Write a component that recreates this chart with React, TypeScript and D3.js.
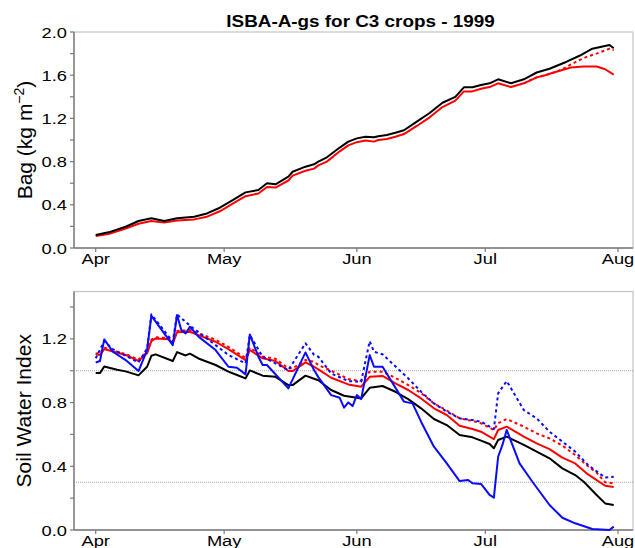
import React from "react";
import * as d3 from "d3";

// ---- Data (day offset from 1999-04-01, value) ----
const monthTicks = ["Apr", "May", "Jun", "Jul", "Aug"];
const bagTicks = [0.0, 0.4, 0.8, 1.2, 1.6, 2.0];
const swiTicks = [0.0, 0.4, 0.8, 1.2];
const swiRefLines = [1.0, 0.3];

const bagBlack: [number, number][] = [
  [0, 0.12], [3, 0.145], [7, 0.197], [10, 0.25], [13, 0.275], [16, 0.25], [19, 0.275], [23, 0.29],
  [26, 0.32], [29, 0.373], [32, 0.444], [35, 0.515], [38, 0.537], [40, 0.6], [42, 0.59], [45, 0.66],
  [46, 0.706], [49, 0.753], [51, 0.775], [52, 0.8], [54, 0.84], [57, 0.93], [59, 0.985], [61, 1.015],
  [63, 1.03], [65, 1.025], [66, 1.035], [68, 1.046], [70, 1.067], [72, 1.09], [75, 1.17], [78, 1.25],
  [81, 1.345], [84, 1.4], [86, 1.488], [88, 1.488], [90, 1.51], [92, 1.525], [94, 1.562], [97, 1.525],
  [100, 1.562], [103, 1.625], [106, 1.66], [110, 1.725], [113, 1.78], [116, 1.845], [120, 1.88], [121, 1.85],
];
const bagRed: [number, number][] = [
  [0, 0.11], [3, 0.13], [7, 0.18], [10, 0.225], [13, 0.25], [16, 0.235], [19, 0.255], [23, 0.265],
  [26, 0.29], [29, 0.34], [32, 0.41], [35, 0.48], [38, 0.505], [40, 0.565], [42, 0.56], [45, 0.625],
  [46, 0.67], [49, 0.715], [51, 0.735], [52, 0.765], [54, 0.8], [57, 0.895], [59, 0.95], [61, 0.98],
  [63, 0.995], [65, 0.985], [66, 1.0], [68, 1.01], [70, 1.03], [72, 1.055], [75, 1.13], [78, 1.21],
  [81, 1.305], [84, 1.365], [86, 1.45], [88, 1.45], [90, 1.475], [92, 1.49], [94, 1.525], [97, 1.49],
  [100, 1.525], [103, 1.58], [105, 1.6], [107, 1.625], [109, 1.648], [111, 1.672], [114, 1.68],
  [117, 1.68], [119, 1.655], [121, 1.605],
];
const bagRedDotted: [number, number][] = [
  [100, 1.525], [103, 1.58], [105, 1.6], [107, 1.625], [109, 1.655], [111, 1.7], [113, 1.74],
  [115, 1.775], [117, 1.8], [119, 1.83], [120, 1.845], [121, 1.83],
];

const swiBlack: [number, number][] = [
  [0, 0.985], [1, 0.985], [2, 1.027], [5, 1.006], [7, 0.996], [10, 0.971], [12, 1.025], [13, 1.094],
  [14, 1.103], [18, 1.061], [19, 1.117], [21, 1.096], [22, 1.107], [24, 1.077], [28, 1.036], [31, 0.994],
  [33, 0.973], [35, 0.952], [36, 1.002], [39, 0.969], [42, 0.962], [45, 0.91], [46, 0.91], [49, 0.969],
  [51, 0.95], [52, 0.94], [55, 0.879], [58, 0.843], [61, 0.83], [62, 0.826], [64, 0.893], [67, 0.904],
  [70, 0.868], [73, 0.822], [76, 0.764], [79, 0.697], [82, 0.659], [85, 0.596], [88, 0.582], [90, 0.561],
  [92, 0.54], [93, 0.513], [94, 0.565], [96, 0.586], [100, 0.534], [103, 0.492], [106, 0.45], [109, 0.387],
  [112, 0.345], [114, 0.303], [117, 0.22], [119, 0.167], [121, 0.157],
];
const swiRed: [number, number][] = [
  [0, 1.103], [1, 1.099], [2, 1.136], [5, 1.113], [7, 1.099], [10, 1.061], [12, 1.109], [13, 1.186],
  [14, 1.203], [17, 1.197], [18, 1.172], [19, 1.241], [22, 1.245], [24, 1.224], [28, 1.182], [31, 1.136],
  [35, 1.067], [36, 1.13], [39, 1.078], [42, 1.061], [45, 0.998], [46, 0.998], [49, 1.052], [51, 1.025],
  [52, 1.009], [55, 0.956], [59, 0.914], [62, 0.9], [64, 0.962], [67, 0.967], [70, 0.921], [73, 0.879],
  [76, 0.826], [79, 0.764], [82, 0.722], [85, 0.655], [88, 0.634], [90, 0.617], [93, 0.571], [94, 0.628],
  [96, 0.649], [100, 0.586], [103, 0.544], [106, 0.508], [109, 0.454], [112, 0.418], [115, 0.349],
  [119, 0.278], [121, 0.27],
];
const swiRedDotted: [number, number][] = [
  [0, 1.11], [1, 1.105], [2, 1.145], [5, 1.12], [7, 1.105], [10, 1.07], [12, 1.118], [13, 1.195],
  [14, 1.21], [17, 1.205], [18, 1.18], [19, 1.25], [22, 1.255], [24, 1.235], [28, 1.195], [31, 1.15],
  [35, 1.08], [36, 1.145], [39, 1.09], [42, 1.075], [45, 1.015], [46, 1.015], [49, 1.067], [51, 1.057],
  [52, 1.036], [55, 1.0], [59, 0.948], [62, 0.935], [64, 0.994], [67, 0.994], [70, 0.955], [73, 0.91],
  [76, 0.86], [79, 0.795], [82, 0.75], [85, 0.701], [88, 0.685], [90, 0.67], [93, 0.628], [94, 0.67],
  [96, 0.697], [100, 0.649], [103, 0.607], [106, 0.575], [109, 0.53], [112, 0.471], [115, 0.4],
  [117, 0.36], [119, 0.3], [121, 0.293],
];
const swiBlue: [number, number][] = [
  [0, 1.052], [1, 1.061], [2, 1.197], [4, 1.119], [7, 1.067], [10, 0.998], [12, 1.13], [13, 1.345],
  [14, 1.308], [18, 1.161], [19, 1.35], [20, 1.255], [21, 1.234], [22, 1.276], [24, 1.214], [28, 1.13],
  [31, 1.025], [33, 1.019], [35, 0.977], [36, 1.228], [38, 1.088], [39, 1.036], [40, 1.036], [45, 0.889],
  [49, 1.115], [51, 1.004], [52, 0.96], [55, 0.847], [57, 0.83], [58, 0.768], [59, 0.801], [60, 0.778],
  [61, 0.847], [62, 0.822], [64, 1.098], [65, 1.025], [67, 1.025], [72, 0.806], [74, 0.795], [76, 0.68],
  [79, 0.523], [82, 0.418], [85, 0.307], [87, 0.314], [88, 0.293], [90, 0.289], [92, 0.22], [93, 0.203],
  [94, 0.46], [95, 0.534], [96, 0.628], [99, 0.418], [102, 0.303], [106, 0.157], [109, 0.077],
  [112, 0.042], [116, 0.006], [120, 0.0], [121, 0.021],
];
const swiBlueDotted: [number, number][] = [
  [0, 1.078], [2, 1.186], [4, 1.136], [10, 1.052], [12, 1.14], [13, 1.354], [18, 1.182], [19, 1.354],
  [22, 1.283], [28, 1.161], [31, 1.099], [35, 1.046], [36, 1.224], [39, 1.088], [45, 1.004], [49, 1.172],
  [51, 1.1], [52, 1.088], [55, 0.983], [59, 0.935], [62, 0.931], [64, 1.186], [65, 1.119], [67, 1.103],
  [73, 0.952], [76, 0.868], [79, 0.795], [82, 0.743], [85, 0.701], [88, 0.69], [90, 0.68], [93, 0.634],
  [94, 0.858], [96, 0.935], [100, 0.753], [103, 0.701], [106, 0.617], [109, 0.555], [112, 0.492],
  [115, 0.408], [119, 0.329], [121, 0.335],
];

// ---- Layout ----
const W = 635;
const H = 548;
const X0 = 74;
const X1 = 633;
const START = Date.UTC(1999, 3, 1);
const DAY = 864e5;
const dayDate = (d: number) => new Date(START + d * DAY);

const FONT = "'Liberation Sans', Arial, Helvetica, sans-serif";
const SX = 1.18;

const x = d3.scaleUtc().domain([dayDate(-5.07), dayDate(125.5)]).range([X0, X1]);
const monthDates = d3.utcMonth.range(dayDate(0), dayDate(123));

type Panel = { top: number; bottom: number; max: number; ticks: number[]; minor: number[] };

const STr = ({ x0, y0, anchor, size, bold, children }: any) => (
  <text
    transform={`translate(${x0},${y0}) scale(${SX},1)`}
    textAnchor={anchor}
    fontSize={size}
    fontWeight={bold ? "bold" : "normal"}
    fontFamily={FONT}
    fill="#000"
  >
    {children}
  </text>
);

function Frame({ p, y }: { p: Panel; y: d3.ScaleLinear<number, number> }) {
  return (
    <g>
      <rect x={X0} y={p.top} width={X1 - X0} height={p.bottom - p.top} fill="none" stroke="#c4c4c4" strokeWidth={1.2} />
      <line x1={X0} x2={X0} y1={p.top} y2={p.bottom} stroke="#7a7a7a" strokeWidth={1.4} />
      <line x1={X0} x2={X1} y1={p.bottom} y2={p.bottom} stroke="#7a7a7a" strokeWidth={1.4} />
      {p.minor.map((v) => (
        <line key={"m" + v} x1={X0 - 4} x2={X0} y1={y(v)} y2={y(v)} stroke="#7a7a7a" strokeWidth={1.2} />
      ))}
      {p.ticks.map((v) => (
        <g key={"t" + v}>
          <line x1={X0 - 4} x2={X0} y1={y(v)} y2={y(v)} stroke="#7a7a7a" strokeWidth={1.2} />
          <STr x0={67} y0={y(v) + 5.6} anchor="end" size={15.5}>
            {v.toFixed(1)}
          </STr>
        </g>
      ))}
      {monthDates.map((dt, i) => (
        <g key={"x" + i}>
          <line x1={x(dt)} x2={x(dt)} y1={p.bottom} y2={p.bottom + 4} stroke="#7a7a7a" strokeWidth={1.2} />
          <STr x0={x(dt)} y0={p.bottom + 15.5} anchor="middle" size={15.5}>
            {monthTicks[i]}
          </STr>
        </g>
      ))}
    </g>
  );
}

function Series({
  data,
  y,
  color,
  dashed,
}: {
  data: [number, number][];
  y: d3.ScaleLinear<number, number>;
  color: string;
  dashed?: boolean;
}) {
  const line = d3
    .line<[number, number]>()
    .x((d) => x(dayDate(d[0])))
    .y((d) => y(d[1]));
  return (
    <path
      d={line(data) || ""}
      fill="none"
      stroke={color}
      strokeWidth={2}
      strokeLinejoin="round"
      strokeDasharray={dashed ? "3 3" : undefined}
    />
  );
}

export default function App() {
  const top: Panel = { top: 32, bottom: 248, max: 2.0, ticks: bagTicks, minor: [0.2, 0.6, 1.0, 1.4, 1.8] };
  const bot: Panel = { top: 291.5, bottom: 530, max: 1.5, ticks: swiTicks, minor: [0.2, 0.6, 1.0, 1.4] };
  const yTop = d3.scaleLinear().domain([0, top.max]).range([top.bottom, top.top]);
  const yBot = d3.scaleLinear().domain([0, 1.4975]).range([bot.bottom, bot.top]);
  const RED = "#ff0000";
  const BLUE = "#0a0aff";
  return (
    <svg
      width={W}
      height={H}
      viewBox={`0 0 ${W} ${H}`}
      style={{ position: "absolute", left: 0, top: 0, background: "#fff" }}
    >
      <rect x={0} y={0} width={W} height={H} fill="#fff" />
      <STr x0={360.5} y0={27} anchor="middle" size={16} bold>
        ISBA-A-gs for C3 crops - 1999
      </STr>

      {/* Top panel */}
      <Frame p={top} y={yTop} />
      <Series data={bagRedDotted} y={yTop} color={RED} dashed />
      <Series data={bagRed} y={yTop} color={RED} />
      <Series data={bagBlack} y={yTop} color="#000" />
      <text
        transform={`translate(32,${(top.top + top.bottom) / 2}) rotate(-90)`}
        textAnchor="middle"
        fontSize={21}
        fontFamily={FONT}
      >
        Bag (kg m
        <tspan fontSize={14} dy={-8}>
          −2
        </tspan>
        <tspan dy={8}>)</tspan>
      </text>

      {/* Bottom panel */}
      <Frame p={bot} y={yBot} />
      {swiRefLines.map((v) => (
        <line
          key={v}
          x1={X0}
          x2={X1}
          y1={yBot(v)}
          y2={yBot(v)}
          stroke="#8c8c8c"
          strokeWidth={0.8}
          strokeDasharray="1 1"
        />
      ))}
      <Series data={swiBlack} y={yBot} color="#000" />
      <Series data={swiRedDotted} y={yBot} color={RED} dashed />
      <Series data={swiRed} y={yBot} color={RED} />
      <Series data={swiBlueDotted} y={yBot} color={BLUE} dashed />
      <Series data={swiBlue} y={yBot} color={BLUE} />
      <text
        transform={`translate(31,${(bot.top + bot.bottom) / 2}) rotate(-90)`}
        textAnchor="middle"
        fontSize={21}
        fontFamily={FONT}
      >
        Soil Water Index
      </text>
    </svg>
  );
}
